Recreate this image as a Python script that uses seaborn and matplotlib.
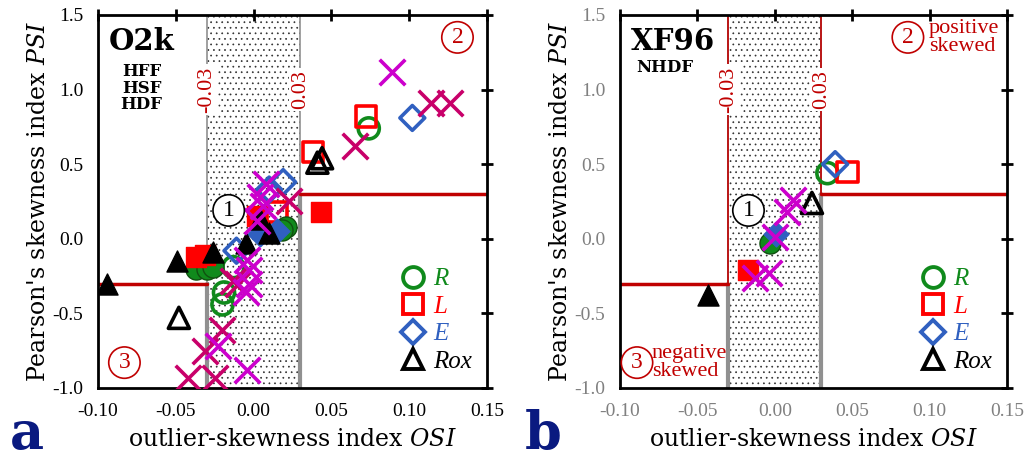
import matplotlib
matplotlib.use("Agg")
import matplotlib.pyplot as plt
import matplotlib.lines as mlines
import seaborn as sns
import numpy as np

# panel a (O2k)
r_open_a_x = [0.074, -0.013, -0.019, -0.020]
r_open_a_y = [0.74, -0.19, -0.36, -0.44]
r_fill_a_x = [-0.037, -0.030, -0.026, 0.021, 0.018]
r_fill_a_y = [-0.20, -0.20, -0.19, 0.08, 0.06]
l_open_a_x = [0.072, 0.038, 0.015]
l_open_a_y = [0.82, 0.58, 0.18]
l_fill_a_x = [-0.037, -0.031, 0.043, 0.002]
l_fill_a_y = [-0.12, -0.11, 0.18, 0.15]
e_open_a_x = [0.102, 0.019, 0.010, -0.011]
e_open_a_y = [0.81, 0.38, 0.33, -0.08]
e_fill_a_x = [0.004, 0.015]
e_fill_a_y = [0.03, 0.05]
rox_open_a_x = [0.041, 0.044, -0.048]
rox_open_a_y = [0.51, 0.54, -0.53]
rox_fill_a_x = [-0.094, -0.049, -0.026, -0.005, 0.004, 0.010]
rox_fill_a_y = [-0.30, -0.15, -0.09, -0.03, 0.13, 0.04]
mag_a_x = [0.089, 0.008, 0.004, 0.002, -0.004, -0.003, -0.003, -0.005, -0.023, -0.004, 0.006]
mag_a_y = [1.12, 0.37, 0.28, 0.12, -0.14, -0.21, -0.30, -0.36, -0.72, -0.88, 0.22]
crim_a_x = [0.065, 0.114, 0.126, 0.023, -0.013, -0.010, -0.020, -0.031, -0.042, -0.025]
crim_a_y = [0.62, 0.91, 0.91, 0.25, -0.28, -0.30, -0.61, -0.75, -0.93, -0.93]

# panel b (XF96)
r_open_b_x, r_open_b_y = [0.034], [0.44]
r_fill_b_x, r_fill_b_y = [-0.003], [-0.03]
l_open_b_x, l_open_b_y = [0.047], [0.45]
l_fill_b_x, l_fill_b_y = [-0.017], [-0.21]
e_open_b_x, e_open_b_y = [0.039], [0.50]
e_fill_b_x, e_fill_b_y = [0.001], [0.03]
rox_open_b_x, rox_open_b_y = [0.024], [0.24]
rox_fill_b_x, rox_fill_b_y = [-0.043], [-0.38]
mag_b_x = [-0.013, -0.004, 0.000, 0.008, 0.012]
mag_b_y = [-0.26, -0.23, 0.01, 0.18, 0.26]
crim_b_x, crim_b_y = [], []

x_ticks = [-0.10, -0.05, 0.00, 0.05, 0.10, 0.15]
y_ticks = [-1.0, -0.5, 0.0, 0.5, 1.0, 1.5]
labels = ["R", "L", "E", "Rox"]

GREEN = "#108a1c"
RED = "#ff0000"
BLUE = "#3060c0"
BLACK = "#000000"
MAG = "#cc00cc"
CRIM = "#c8006a"
DRED = "#c00000"
colors = [GREEN, RED, BLUE, BLACK]
markers = ["o", "s", "D", "^"]
sizes = [230, 210, 160, 230]

sns.set_style("white")
plt.rcParams["font.family"] = ["DejaVu Serif"]
plt.rcParams["text.color"] = "black"
plt.rcParams["axes.labelcolor"] = "black"
plt.rcParams["mathtext.fontset"] = "custom"
plt.rcParams["mathtext.it"] = "DejaVu Serif:italic"
plt.rcParams["mathtext.rm"] = "DejaVu Serif"
plt.rcParams["hatch.linewidth"] = 0.5

fig = plt.figure(figsize=(10.29, 4.61), dpi=100)
ax_a = fig.add_axes([0.0952, 0.1584, 0.3781, 0.8091])
ax_b = fig.add_axes([0.6025, 0.1584, 0.3761, 0.8091])


def decorate(ax, red_vlines, tick_color):
    ax.set_xlim(-0.10, 0.15)
    ax.set_ylim(-1.0, 1.5)
    # stippled zone
    ax.axvspan(-0.03, 0.03, facecolor="white", edgecolor="#303030", hatch="...", linewidth=0, zorder=0)
    ax.axvline(-0.03, color="#909090", lw=1.2, zorder=1)
    ax.axvline(0.03, color="#909090", lw=1.2, zorder=1)
    ax.plot([-0.03, -0.03], [-1.0, -0.3], color="#909090", lw=3, zorder=1)
    ax.plot([0.03, 0.03], [-1.0, 0.3], color="#909090", lw=3, zorder=1)
    if red_vlines:
        ax.plot([-0.03, -0.03], [-0.3, 1.5], color=DRED, lw=1.2, zorder=1)
        ax.plot([0.03, 0.03], [0.3, 1.5], color=DRED, lw=1.2, zorder=1)
    ax.plot([0.03, 0.15], [0.3, 0.3], color=DRED, lw=2.5, zorder=1)
    ax.plot([-0.10, -0.03], [-0.3, -0.3], color=DRED, lw=2.5, zorder=1)
    for xv, s in [(-0.03, "-0.03"), (0.03, "0.03")]:
        ax.text(xv, 1.0, s, rotation=90, color=DRED, fontsize=16, ha="center", va="center",
                family="Liberation Serif",
                bbox=dict(facecolor="white", edgecolor="none", pad=1.5), zorder=2)
    ax.set_xticks(x_ticks)
    ax.set_yticks(y_ticks)
    ax.set_xticklabels([f"{v:.2f}" for v in x_ticks], family="Liberation Serif")
    ax.set_yticklabels([f"{v:.1f}" for v in y_ticks], family="Liberation Serif")
    ax.tick_params(direction="inout", length=9, width=2, top=True, right=True,
                   labelsize=14, colors=tick_color, pad=6)
    ax.tick_params(axis="both", color="black")
    for sp in ax.spines.values():
        sp.set_linewidth(2)
        sp.set_color("black")
    ax.set_xlabel("outlier-skewness index $\\mathit{OSI}$", fontsize=17, labelpad=6)
    ax.set_ylabel("Pearson's skewness index $\\mathit{PSI}$", fontsize=17, labelpad=2)


def circled(ax, x, y, s, color):
    ax.text(x, y, s, color=color, fontsize=17, ha="center", va="center", zorder=7,
            family="Liberation Serif",
            bbox=dict(boxstyle="circle,pad=0.22", facecolor="white", edgecolor=color, lw=1.2))


def draw(ax, opens, fills, mag, crim):
    for (xs, ys), c, m, s in zip(opens, colors, markers, sizes):
        sns.scatterplot(x=xs, y=ys, ax=ax, marker=m, s=s, facecolor="none",
                        edgecolor=c, linewidth=2.6, zorder=4)
    for (xs, ys), c, m, s in zip(fills, colors, markers, sizes):
        ec = "#105010" if c == GREEN else c
        sns.scatterplot(x=xs, y=ys, ax=ax, marker=m, s=s, color=c, edgecolor=ec,
                        linewidth=1, zorder=5)
    for (xs, ys), c in [(crim, CRIM), (mag, MAG)]:
        if len(xs):
            sns.scatterplot(x=xs, y=ys, ax=ax, marker="x", s=340, color=c, linewidth=2.6, zorder=6)


decorate(ax_a, False, "black")
draw(ax_a,
     [(r_open_a_x, r_open_a_y), (l_open_a_x, l_open_a_y), (e_open_a_x, e_open_a_y), (rox_open_a_x, rox_open_a_y)],
     [(r_fill_a_x, r_fill_a_y), (l_fill_a_x, l_fill_a_y), (e_fill_a_x, e_fill_a_y), (rox_fill_a_x, rox_fill_a_y)],
     (mag_a_x, mag_a_y), (crim_a_x, crim_a_y))
ax_a.text(-0.093, 1.32, "O2k", fontsize=21, fontweight="bold", ha="left", va="center")
ax_a.text(-0.072, 1.01, "HFF\nHSF\nHDF", fontsize=12, fontweight="bold", ha="center", va="center",
          linespacing=0.95)
circled(ax_a, -0.016, 0.19, "1", "black")
circled(ax_a, 0.131, 1.35, "2", DRED)
circled(ax_a, -0.083, -0.83, "3", DRED)

decorate(ax_b, True, "#808080")
draw(ax_b,
     [(r_open_b_x, r_open_b_y), (l_open_b_x, l_open_b_y), (e_open_b_x, e_open_b_y), (rox_open_b_x, rox_open_b_y)],
     [(r_fill_b_x, r_fill_b_y), (l_fill_b_x, l_fill_b_y), (e_fill_b_x, e_fill_b_y), (rox_fill_b_x, rox_fill_b_y)],
     (mag_b_x, mag_b_y), (crim_b_x, crim_b_y))
ax_b.text(-0.093, 1.32, "XF96", fontsize=21, fontweight="bold", ha="left", va="center")
ax_b.text(-0.071, 1.15, "NHDF", fontsize=12, fontweight="bold", ha="center", va="center")
circled(ax_b, -0.017, 0.19, "1", "black")
circled(ax_b, 0.086, 1.35, "2", DRED)
ax_b.text(0.0995, 1.35, "positive\nskewed", color=DRED, fontsize=16, ha="left", va="center",
          linespacing=0.95, family="Liberation Serif")
circled(ax_b, -0.089, -0.83, "3", DRED)
ax_b.text(-0.0795, -0.83, "negative\nskewed", color=DRED, fontsize=16, ha="left", va="center",
          linespacing=0.95, family="Liberation Serif")

for ax in (ax_a, ax_b):
    handles = [mlines.Line2D([], [], linestyle="none", marker=m, markersize=15 if m != "D" else 12,
                             markerfacecolor="none", markeredgecolor=c, markeredgewidth=2.8)
               for m, c in zip(markers, colors)]
    leg = ax.legend(handles, labels, loc="lower right", frameon=False, handletextpad=0.3,
                    labelspacing=0.2, borderaxespad=0.2, handlelength=1.0,
                    prop={"size": 18, "style": "italic", "family": "Liberation Serif"})
    for t, c in zip(leg.get_texts(), colors):
        t.set_color(c)

fig.text(0.010, 0.025, "a", fontsize=38, fontweight="bold", color="#0a1a80")
fig.text(0.510, 0.025, "b", fontsize=38, fontweight="bold", color="#0a1a80")

fig.savefig("out.png", dpi=100)
